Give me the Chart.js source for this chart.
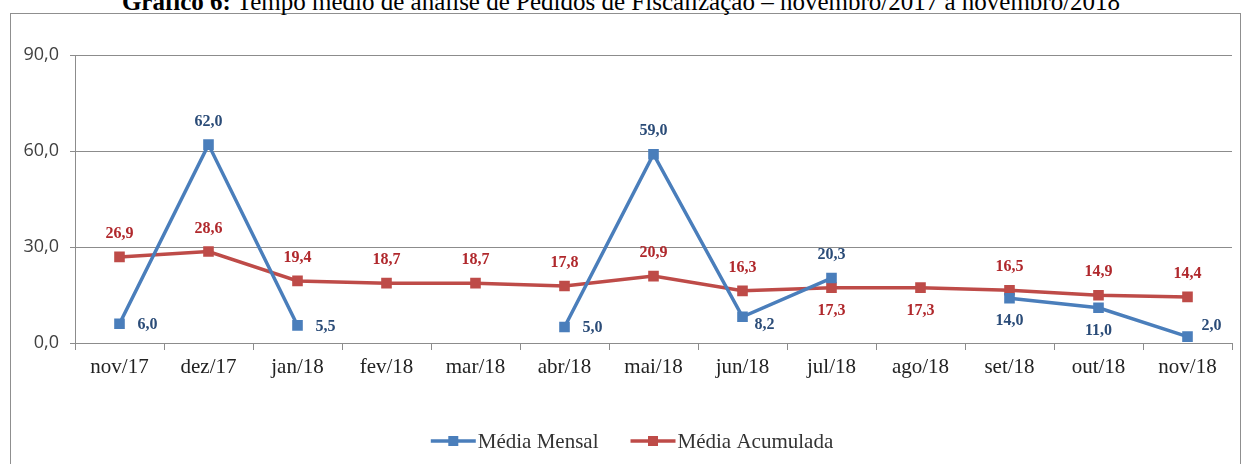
<!DOCTYPE html>
<html>
<head>
<meta charset="utf-8">
<script src="https://cdn.jsdelivr.net/npm/chart.js@4/dist/chart.umd.min.js"></script>
<style>
  body { margin: 0; background: #fff; width: 1242px; height: 464px; overflow: hidden; position: relative; }
  #chart { position: absolute; left: 0; top: 0; }
  #frame { position: absolute; left: 10px; top: 13px; width: 1231px; height: 470px; border: 1px solid #8f8f8f; box-sizing: border-box; pointer-events: none; }
  #title { position: absolute; left: 0; top: -11px; width: 1242px; text-align: center; font: 25px "Liberation Serif", serif; line-height: 25px; white-space: nowrap; color: #000; }
</style>
</head>
<body>
<div id="frame"></div>
<div id="title"><b>Gráfico 6:</b> Tempo médio de análise de Pedidos de Fiscalização – novembro/2017 a novembro/2018</div>
<canvas id="chart" width="1242" height="464"></canvas>
<script>
"use strict"

//Chart data
const months = ["nov/17", "dez/17", "jan/18", "fev/18", "mar/18", "abr/18", "mai/18", "jun/18", "jul/18", "ago/18", "set/18", "out/18", "nov/18"];
const mediaMensal = [6.0, 62.0, 5.5, null, null, 5.0, 59.0, 8.2, 20.3, null, 14.0, 11.0, 2.0];
const mediaAcumulada = [26.9, 28.6, 19.4, 18.7, 18.7, 17.8, 20.9, 16.3, 17.3, 17.3, 16.5, 14.9, 14.4];
const yTicks = [0, 30, 60, 90];
const seriesNames = ["Média Mensal", "Média Acumulada"];

//Where each value label sits next to its point
const mensalLabelPos = ["right", "above", "right", null, null, "right", "above", "rightBelow", "above", null, "below", "below", "rightAbove"];
const acumuladaLabelPos = ["above", "above", "above", "above", "above", "above", "above", "above", "below", "below", "above", "above", "above"];
const labelOffsets = {
  above: [0, -23],
  below: [0, 23],
  right: [28, 1],
  rightBelow: [22, 8],
  rightAbove: [24, -11]
};

const blue = "#4a7ebb";
const red = "#be4b48";
const blueText = "#2b4c78";
const redText = "#b0282c";
const gridGray = "#8c8c8c";

function fmt(v) {
  return v.toFixed(1).replace(".", ",");
}

//Value labels drawn at each point
const valueLabels = {
  id: "valueLabels",
  afterDatasetsDraw(chart) {
    const ctx = chart.ctx;
    const positions = [mensalLabelPos, acumuladaLabelPos];
    const colors = [blueText, redText];
    ctx.save();
    ctx.font = "bold 16px 'Liberation Serif', serif";
    ctx.textAlign = "center";
    ctx.textBaseline = "middle";
    chart.data.datasets.forEach((ds, di) => {
      const meta = chart.getDatasetMeta(di);
      ctx.fillStyle = colors[di];
      meta.data.forEach((pt, i) => {
        const v = ds.data[i];
        if (v === null || v === undefined) return;
        const off = labelOffsets[positions[di][i]] || labelOffsets.above;
        ctx.fillText(fmt(v), pt.x + off[0], pt.y + off[1]);
      });
    });
    ctx.restore();
  }
};

//Legend below the chart: line with a square marker and the series name
const lineLegend = {
  id: "lineLegend",
  afterDraw(chart) {
    const ctx = chart.ctx;
    const y = 441;
    const lineLen = 45;
    const textGap = 2;
    const itemGap = 32;
    ctx.save();
    ctx.font = "21px 'Liberation Serif', serif";
    ctx.textBaseline = "middle";
    const widths = seriesNames.map(n => lineLen + textGap + ctx.measureText(n).width);
    const total = widths[0] + itemGap + widths[1];
    let x = 632 - total / 2;
    chart.data.datasets.forEach((ds, di) => {
      ctx.strokeStyle = ds.borderColor;
      ctx.lineWidth = 3.5;
      ctx.beginPath();
      ctx.moveTo(x, y);
      ctx.lineTo(x + lineLen, y);
      ctx.stroke();
      ctx.fillStyle = ds.borderColor;
      ctx.fillRect(x + lineLen / 2 - 5, y - 5, 10, 10);
      ctx.fillStyle = "#333";
      ctx.fillText(seriesNames[di], x + lineLen + textGap, y + 1);
      x += widths[di] + itemGap;
    });
    ctx.restore();
  }
};

const data = {
  labels: months,
  datasets: [
    {
      label: seriesNames[0],
      data: mediaMensal,
      borderColor: blue,
      backgroundColor: blue,
      borderWidth: 3.5,
      pointStyle: "rect",
      pointRadius: 7.5,
      pointBorderWidth: 0,
      spanGaps: false,
      tension: 0
    },
    {
      label: seriesNames[1],
      data: mediaAcumulada,
      borderColor: red,
      backgroundColor: red,
      borderWidth: 3.5,
      pointStyle: "rect",
      pointRadius: 7.5,
      pointBorderWidth: 0,
      tension: 0
    }
  ]
};

const config = {
  type: "line",
  data: data,
  options: {
    responsive: false,
    animation: false,
    devicePixelRatio: 1,
    layout: { padding: { top: 55, right: 10, bottom: 81, left: 0 } },
    plugins: {
      legend: { display: false },
      tooltip: { enabled: false },
      title: { display: false }
    },
    scales: {
      x: {
        offset: true,
        afterFit: s => { s.height = 40; },
        grid: { offset: true, drawOnChartArea: false, drawTicks: true, tickLength: 7, color: gridGray },
        border: { color: gridGray, width: 1 },
        ticks: {
          color: "#222",
          padding: 5,
          maxRotation: 0,
          autoSkip: false,
          font: { family: "'Liberation Serif', serif", size: 21 }
        }
      },
      y: {
        min: yTicks[0],
        max: yTicks[yTicks.length - 1],
        afterFit: s => { s.width = 75; },
        afterBuildTicks: s => { s.ticks = yTicks.map(v => ({ value: v })); },
        grid: { color: gridGray, lineWidth: 1, drawTicks: true, tickLength: 5 },
        border: { color: gridGray, width: 1 },
        ticks: {
          color: "#404040",
          padding: 11,
          font: { family: "'Open Sans', sans-serif", size: 18 },
          callback: v => fmt(v)
        }
      }
    }
  },
  plugins: [valueLabels, lineLegend]
};

const lineChart = new Chart(document.getElementById("chart"), config);
</script>
</body>
</html>
